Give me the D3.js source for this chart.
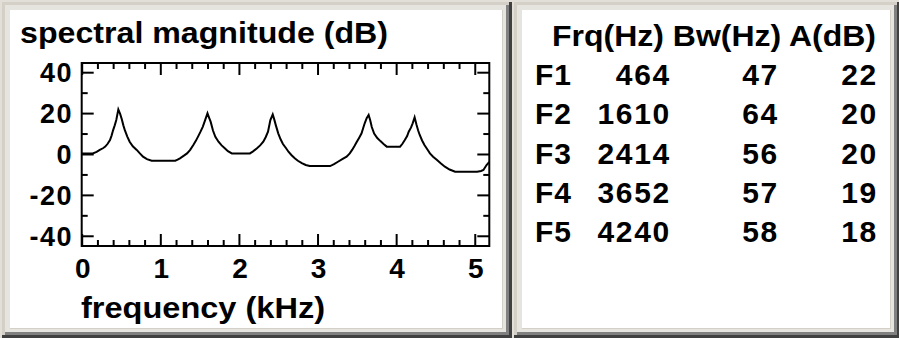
<!DOCTYPE html>
<html><head><meta charset="utf-8">
<script src="https://cdn.jsdelivr.net/npm/d3@7/dist/d3.min.js"></script>
<style>html,body{margin:0;padding:0;background:#d4d0c8;}svg{display:block;}</style>
</head><body>
<svg id="c" width="899" height="338"></svg>
<script>
// ---- data ----
const freqKHz = [0.00,0.14,0.19,0.23,0.27,0.30,0.33,0.36,0.38,0.40,0.42,0.44,0.466,0.49,0.51,0.53,0.55,0.58,0.61,0.65,0.70,0.74,0.78,0.83,0.89,1.19,1.22,1.25,1.30,1.34,1.38,1.42,1.45,1.48,1.51,1.54,1.57,1.60,1.62,1.64,1.67,1.70,1.74,1.78,1.82,1.86,1.91,2.14,2.18,2.23,2.27,2.31,2.34,2.37,2.40,2.43,2.45,2.47,2.50,2.53,2.56,2.60,2.63,2.67,2.71,2.75,2.80,2.85,2.90,3.16,3.21,3.26,3.32,3.37,3.41,3.44,3.47,3.50,3.53,3.56,3.58,3.60,3.625,3.65,3.67,3.69,3.72,3.76,3.80,3.84,3.88,4.05,4.08,4.11,4.14,4.16,4.19,4.21,4.235,4.26,4.28,4.30,4.33,4.36,4.40,4.43,4.47,4.52,4.57,4.62,4.68,4.75,5.03,5.08,5.11,5.15,5.185];
const magDB   = [0.3,0.3,1.0,2.0,2.8,3.6,5.0,6.8,9.0,11.7,14.0,16.6,21.8,19.5,17.0,14.0,11.5,8.5,6.0,3.8,2.0,0.3,-1.3,-2.5,-3.3,-3.3,-2.8,-2.1,-0.8,0.3,2.0,4.4,6.3,8.5,10.8,13.3,16.6,19.9,17.8,15.8,11.5,8.4,6.0,4.2,2.8,1.4,0.3,0.3,1.3,2.8,4.2,6.0,8.2,10.9,16.6,19.3,16.8,14.0,10.1,7.2,4.9,2.8,1.1,-0.6,-2.1,-3.3,-4.5,-5.4,-5.9,-5.9,-5.0,-3.8,-2.4,-1.3,0.3,2.0,3.9,6.0,8.0,10.1,12.6,15.0,17.5,19.1,16.5,13.2,10.0,7.8,6.3,4.9,3.6,3.6,5.0,6.8,8.8,10.9,13.0,15.0,17.9,14.2,11.5,9.3,6.6,4.4,2.1,0.3,-1.3,-2.9,-4.6,-6.2,-7.6,-8.7,-8.7,-8.3,-7.8,-5.4,-3.9];
const xTickLabels = [0,1,2,3,4,5];
const yTickLabels = [40,20,0,-20,-40];
const formantNames = ["F1","F2","F3","F4","F5"];
const formantFrq = [464,1610,2414,3652,4240];
const formantBw  = [47,64,56,57,58];
const formantAmp = [22,20,20,19,18];
const tableHeader = "Frq(Hz) Bw(Hz) A(dB)";
const chartTitle = "spectral magnitude (dB)";
const xAxisTitle = "frequency (kHz)";

// ---- drawing ----
const svg = d3.select("#c");
const FONT = "'Liberation Sans', Arial, sans-serif";

function panel(x0,y0,x1,y1){
  const g = svg.append("g");
  g.append("rect").attr("x",x0).attr("y",y0).attr("width",x1-x0).attr("height",y1-y0).attr("fill","#d4d0c8");
  g.append("rect").attr("x",x0+3).attr("y",y0+3).attr("width",x1-x0-6).attr("height",y1-y0-6).attr("fill","#e6e4de");
  g.append("rect").attr("x",x1-3).attr("y",y0).attr("width",3).attr("height",y1-y0).attr("fill","#404040");
  g.append("rect").attr("x",x0).attr("y",y1-3).attr("width",x1-x0).attr("height",3).attr("fill","#404040");
  g.append("rect").attr("x",x1-6).attr("y",y0+3).attr("width",3).attr("height",y1-y0-6).attr("fill","#808080");
  g.append("rect").attr("x",x0+3).attr("y",y1-6).attr("width",x1-x0-6).attr("height",3).attr("fill","#808080");
  g.append("rect").attr("x",x0+8).attr("y",y0+8).attr("width",x1-x0-17).attr("height",y1-y0-17).attr("fill","#d4d0c8");
  g.append("rect").attr("x",x0+8).attr("y",y0+8).attr("width",x1-x0-18).attr("height",y1-y0-18).attr("fill","#ffffff");
}
svg.append("rect").attr("width",899).attr("height",338).attr("fill","#e2dfd8");
panel(2,2,512,338);
panel(514,2,900,338);

const x = d3.scaleLinear().domain([0,5.185]).range([81.7,489.3]);
const y = d3.scaleLinear().domain([-45,44.5]).range([246,63]);

const g = svg.append("g");
const majorX = d3.range(0,5.01,1), minorX = d3.range(0,5.19,0.2).filter(v=>Math.abs(v-Math.round(v))>1e-6);
const majorY = d3.range(-40,41,20), minorY = [-30,-10,10,30];

function ticks(sel, axisFn, scale, vals, len){
  sel.append("g").call(axisFn(scale).tickValues(vals).tickSize(len).tickFormat(""))
    .call(s=>s.select(".domain").remove())
    .call(s=>s.selectAll("line").attr("stroke","#000").attr("stroke-width",2));
}
const gBot = g.append("g").attr("transform",`translate(0,${y.range()[0]})`);
ticks(gBot, d3.axisBottom, x, majorX, -12); ticks(gBot, d3.axisBottom, x, minorX, -6);
const gTop = g.append("g").attr("transform",`translate(0,${y.range()[1]})`);
ticks(gTop, d3.axisTop, x, majorX, -12); ticks(gTop, d3.axisTop, x, minorX, -6);
const gLft = g.append("g").attr("transform",`translate(${x.range()[0]},0)`);
ticks(gLft, d3.axisLeft, y, majorY, -12); ticks(gLft, d3.axisLeft, y, minorY, -6);
const gRgt = g.append("g").attr("transform",`translate(${x.range()[1]},0)`);
ticks(gRgt, d3.axisRight, y, majorY, -12); ticks(gRgt, d3.axisRight, y, minorY, -6);

g.append("rect").attr("x",x.range()[0]).attr("y",y.range()[1])
  .attr("width",x.range()[1]-x.range()[0]).attr("height",y.range()[0]-y.range()[1])
  .attr("fill","none").attr("stroke","#000").attr("stroke-width",2);

const line = d3.line().x((d,i)=>x(freqKHz[i])).y((d,i)=>y(magDB[i]));
g.append("path").datum(magDB).attr("d",line).attr("fill","none").attr("stroke","#000").attr("stroke-width",2);

// labels
g.selectAll(".yl").data(yTickLabels).join("text")
  .attr("x",73).attr("y",d=>y(d)+10).attr("text-anchor","end")
  .attr("font-family",FONT).attr("font-weight","bold").attr("font-size",27)
  .attr("letter-spacing",1.5).text(d=>d);
g.selectAll(".xl").data(xTickLabels).join("text")
  .attr("x",d=>x(d)+1).attr("y",278).attr("text-anchor","middle")
  .attr("font-family",FONT).attr("font-weight","bold").attr("font-size",28).text(d=>d);
svg.append("text").attr("x",20).attr("y",43).attr("font-family",FONT).attr("font-weight","bold")
  .attr("font-size",29).attr("textLength",368).attr("lengthAdjust","spacingAndGlyphs").text(chartTitle);
svg.append("text").attr("x",81).attr("y",318).attr("font-family",FONT).attr("font-weight","bold")
  .attr("font-size",29).attr("textLength",244).attr("lengthAdjust","spacingAndGlyphs").text(xAxisTitle);

// table
const t = svg.append("g").attr("font-family",FONT).attr("font-weight","bold").attr("font-size",30);
t.append("text").attr("x",552).attr("y",46).attr("textLength",324).attr("lengthAdjust","spacingAndGlyphs").text(tableHeader);
const rowY = i => 85 + i*39.25;
t.selectAll(".n").data(formantNames).join("text").attr("x",535).attr("y",(d,i)=>rowY(i)).attr("letter-spacing",1).text(d=>d);
t.selectAll(".f").data(formantFrq).join("text").attr("x",671).attr("y",(d,i)=>rowY(i)).attr("text-anchor","end").attr("letter-spacing",1.7).text(d=>d);
t.selectAll(".b").data(formantBw).join("text").attr("x",779).attr("y",(d,i)=>rowY(i)).attr("text-anchor","end").attr("letter-spacing",1.7).text(d=>d);
t.selectAll(".a").data(formantAmp).join("text").attr("x",878).attr("y",(d,i)=>rowY(i)).attr("text-anchor","end").attr("letter-spacing",1.7).text(d=>d);
</script>
</body></html>
